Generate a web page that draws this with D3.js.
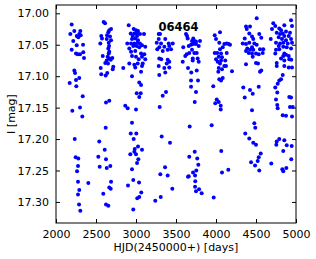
<!DOCTYPE html>
<html>
<head>
<meta charset="utf-8">
<script src="https://cdn.jsdelivr.net/npm/d3@7/dist/d3.min.js"></script>
<style>
  html, body { margin: 0; padding: 0; background: #fff; }
  svg { display: block; font-family: "DejaVu Sans", sans-serif; }
</style>
</head>
<body>
<svg id="chart" width="316" height="259"></svg>
<script>
// observing seasons, [HJD-2450000, I mag]
const season1 = [
  [2196,17.018],[2229,17.028],[2179,17.033],[2216,17.044],[2259,17.036],[2279,17.038],
  [2304,17.028],[2291,17.033],[2309,17.035],[2259,17.051],[2338,17.050],[2196,17.058],
  [2250,17.064],[2271,17.065],[2300,17.065],[2341,17.062],[2350,17.071],[2229,17.091],
  [2238,17.095],[2291,17.103],[2250,17.106],[2171,17.111],[2254,17.116],[2334,17.132],
  [2300,17.150],[2204,17.155],[2329,17.164],[2234,17.200],[2246,17.229],[2279,17.231],
  [2275,17.243],[2263,17.251],[2275,17.268],[2291,17.281],[2275,17.288],[2288,17.304],
  [2304,17.314],[2404,17.270]
];
const season2 = [
  [2596,17.014],[2613,17.016],[2666,17.027],[2688,17.025],[2654,17.030],[2638,17.035],
  [2566,17.036],[2575,17.040],[2675,17.037],[2634,17.041],[2688,17.043],[2554,17.048],
  [2659,17.047],[2663,17.052],[2654,17.056],[2666,17.061],[2659,17.064],[2584,17.068],
  [2646,17.069],[2666,17.072],[2684,17.074],[2634,17.075],[2616,17.079],[2650,17.080],
  [2704,17.071],[2716,17.085],[2709,17.089],[2559,17.087],[2566,17.097],[2641,17.095],
  [2621,17.099],[2625,17.142],[2666,17.139],[2621,17.182],[2541,17.204],[2609,17.217],
  [2529,17.228],[2625,17.232],[2546,17.244],[2634,17.246],[2679,17.243],[2688,17.268],
  [2666,17.277],[2684,17.279],[2591,17.287],[2625,17.304],[2654,17.306]
];
const season3 = [
  [2909,17.019],[2971,17.025],[3000,17.027],[3025,17.028],[2934,17.032],[2979,17.032],
  [3009,17.032],[2959,17.036],[3013,17.036],[3050,17.033],[3100,17.033],[2991,17.040],
  [2950,17.041],[3025,17.043],[2891,17.048],[2938,17.048],[2979,17.048],[3021,17.047],
  [3050,17.048],[2966,17.052],[3009,17.052],[3075,17.051],[3116,17.053],[2916,17.056],
  [3041,17.054],[2938,17.061],[2991,17.060],[3063,17.064],[3104,17.065],[2950,17.068],
  [3000,17.069],[3075,17.069],[3034,17.073],[3116,17.073],[2916,17.080],[2979,17.082],
  [3021,17.080],[3084,17.080],[2841,17.087],[2991,17.086],[3075,17.084],[2950,17.100],
  [3063,17.093],[3041,17.110],[3063,17.114],[3009,17.127],[3059,17.127],[3041,17.133],
  [2866,17.147],[2896,17.151],[3000,17.153],[2950,17.174],[2934,17.191],[3004,17.191],
  [2971,17.200],[3025,17.212],[3075,17.217],[2984,17.216],[2979,17.220],[2929,17.224],
  [3000,17.224],[3029,17.232],[3013,17.238],[2950,17.248],[2966,17.265],[3038,17.269],
  [2900,17.274],[3066,17.285],[3041,17.292],[3016,17.294],[2966,17.312]
];
const season4 = [
  [3284,17.033],[3300,17.033],[3284,17.041],[3366,17.041],[3259,17.047],[3313,17.048],
  [3409,17.048],[3459,17.048],[3291,17.054],[3354,17.053],[3416,17.052],[3266,17.057],
  [3334,17.060],[3396,17.058],[3438,17.057],[3291,17.072],[3316,17.073],[3396,17.074],
  [3416,17.077],[3384,17.080],[3284,17.084],[3354,17.087],[3416,17.086],[3291,17.098],
  [3366,17.094],[3375,17.125],[3334,17.131],[3296,17.149],[3321,17.196],[3425,17.206],
  [3363,17.245],[3304,17.256],[3396,17.258],[3454,17.279],[3309,17.292],[3241,17.298]
];
const season5 = [
  [3625,17.033],[3638,17.036],[3646,17.040],[3716,17.040],[3700,17.044],[3729,17.044],
  [3750,17.045],[3800,17.044],[3591,17.054],[3659,17.052],[3688,17.050],[3716,17.049],
  [3750,17.049],[3784,17.052],[3700,17.058],[3666,17.063],[3729,17.063],[3759,17.063],
  [3634,17.065],[3616,17.068],[3709,17.072],[3771,17.072],[3584,17.077],[3709,17.075],
  [3784,17.077],[3650,17.087],[3691,17.094],[3759,17.091],[3688,17.107],[3775,17.107],
  [3688,17.117],[3750,17.125],[3734,17.141],[3671,17.180],[3734,17.220],[3666,17.228],
  [3766,17.231],[3779,17.241],[3754,17.250],[3713,17.253],[3738,17.258],[3659,17.259],
  [3650,17.260],[3741,17.267],[3738,17.276],[3788,17.280],[3750,17.283],[3821,17.286]
];
const season6 = [
  [3984,17.035],[4050,17.030],[4000,17.041],[4041,17.047],[4104,17.049],[4134,17.048],
  [4159,17.049],[4175,17.050],[4084,17.054],[3984,17.063],[4016,17.063],[4050,17.057],
  [4063,17.064],[4134,17.063],[4000,17.073],[4034,17.069],[4075,17.070],[4021,17.077],
  [4063,17.075],[4050,17.080],[4116,17.075],[4104,17.084],[4125,17.084],[4034,17.087],
  [4075,17.089],[4029,17.093],[4200,17.092],[4041,17.105],[4063,17.107],[4084,17.103],
  [3966,17.116],[4009,17.137],[4034,17.141],[3991,17.143],[4059,17.147],[4059,17.153],
  [3946,17.178],[3971,17.293],[4066,17.219],[4075,17.253],[4154,17.249]
];
const season7 = [
  [4509,17.008],[4375,17.021],[4425,17.021],[4384,17.025],[4416,17.032],[4450,17.037],
  [4359,17.040],[4466,17.041],[4541,17.033],[4566,17.039],[4334,17.048],[4375,17.049],
  [4416,17.047],[4479,17.048],[4509,17.050],[4391,17.056],[4450,17.054],[4425,17.058],
  [4466,17.058],[4375,17.060],[4550,17.057],[4591,17.057],[4409,17.063],[4450,17.064],
  [4500,17.064],[4534,17.065],[4584,17.063],[4459,17.069],[4375,17.081],[4500,17.079],
  [4525,17.080],[4566,17.091],[4550,17.093],[4341,17.118],[4425,17.122],[4534,17.117],
  [4359,17.134],[4459,17.128],[4450,17.154],[4479,17.175],[4491,17.182],[4366,17.191],
  [4416,17.199],[4466,17.206],[4500,17.209],[4559,17.223],[4534,17.229],[4521,17.235],
  [4438,17.237],[4488,17.242],[4541,17.250],[4691,17.239]
];
const season8 = [
  [4716,17.016],[4741,17.020],[4854,17.019],[4938,17.011],[4950,17.020],[4700,17.025],
  [4791,17.024],[4813,17.027],[4759,17.031],[4800,17.033],[4834,17.032],[4875,17.029],
  [4925,17.031],[4854,17.036],[4909,17.036],[4684,17.041],[4784,17.038],[4825,17.041],
  [4875,17.043],[4938,17.041],[4750,17.047],[4800,17.048],[4841,17.047],[4896,17.048],
  [4950,17.047],[4784,17.052],[4841,17.053],[4884,17.054],[4750,17.058],[4791,17.057],
  [4938,17.056],[4741,17.064],[4854,17.064],[4841,17.068],[4875,17.066],[4909,17.068],
  [4813,17.072],[4916,17.073],[4854,17.075],[4941,17.074],[4759,17.079],[4759,17.084],
  [4854,17.084],[4909,17.086],[4950,17.086],[4834,17.098],[4813,17.105],[4791,17.107],
  [4771,17.112],[4741,17.118],[4766,17.126],[4750,17.137],[4766,17.146],[4771,17.151],
  [4916,17.133],[4938,17.134],[4925,17.149],[4959,17.149],[4834,17.162],[4875,17.163],
  [4950,17.164],[4791,17.200],[4759,17.204],[4754,17.209],[4854,17.202],[4884,17.210],
  [4946,17.211],[4841,17.219],[4941,17.232],[4829,17.248],[4841,17.251],[4879,17.246]
];

const xTicks = [2000, 2500, 3000, 3500, 4000, 4500, 5000];
const yTicks = [17.00, 17.05, 17.10, 17.15, 17.20, 17.25, 17.30];
const starName = "06464";

const points = [].concat(season1, season2, season3, season4, season5, season6, season7, season8);

const svg = d3.select('#chart');
const margin = {top: 5, right: 20, bottom: 36, left: 56};
const width = 316 - margin.left - margin.right;
const height = 259 - margin.top - margin.bottom;

const x = d3.scaleLinear().domain([2000, 5000]).range([0, width]);
// magnitudes grow downward
const y = d3.scaleLinear().domain([16.9868, 17.3335]).range([0, height]);

const g = svg.append('g').attr('transform', `translate(${margin.left},${margin.top})`);

// inward ticks on all four sides
const tickLen = 4;
g.append('g')
  .attr('transform', `translate(0,${height})`)
  .call(d3.axisBottom(x).tickValues(xTicks).tickSizeInner(-tickLen).tickSizeOuter(0).tickPadding(7).tickFormat(d3.format('d')));
g.append('g')
  .call(d3.axisTop(x).tickValues(xTicks).tickSizeInner(-tickLen).tickSizeOuter(0).tickFormat(''));
g.append('g')
  .call(d3.axisLeft(y).tickValues(yTicks).tickSizeInner(-tickLen).tickSizeOuter(0).tickPadding(7).tickFormat(d3.format('.2f')));
g.append('g')
  .attr('transform', `translate(${width},0)`)
  .call(d3.axisRight(y).tickValues(yTicks).tickSizeInner(-tickLen).tickSizeOuter(0).tickFormat(''));

g.selectAll('.domain').remove();
g.selectAll('.tick text')
  .attr('font-family', '"DejaVu Sans", sans-serif')
  .attr('font-size', '11px')
  .attr('fill', '#000');
g.selectAll('.tick line').attr('stroke', '#000');

g.selectAll('circle.pt')
  .data(points)
  .enter().append('circle')
  .attr('class', 'pt')
  .attr('cx', d => x(d[0]))
  .attr('cy', d => y(d[1]))
  .attr('r', 2)
  .attr('fill', '#0000ff');

// frame
g.append('rect')
  .attr('width', width)
  .attr('height', height)
  .attr('fill', 'none')
  .attr('stroke', '#000')
  .attr('stroke-width', 1);

g.append('text')
  .attr('x', x(3530))
  .attr('y', 26)
  .attr('text-anchor', 'middle')
  .attr('font-size', '11.5px')
  .attr('font-weight', 'bold')
  .text(starName);

svg.append('text')
  .attr('x', margin.left + width / 2)
  .attr('y', 251)
  .attr('text-anchor', 'middle')
  .attr('font-size', '11px')
  .text('HJD(2450000+) [days]');

svg.append('text')
  .attr('transform', `translate(15,${margin.top + height / 2}) rotate(-90)`)
  .attr('text-anchor', 'middle')
  .attr('font-size', '11px')
  .text('I [mag]');
</script>
</body>
</html>
